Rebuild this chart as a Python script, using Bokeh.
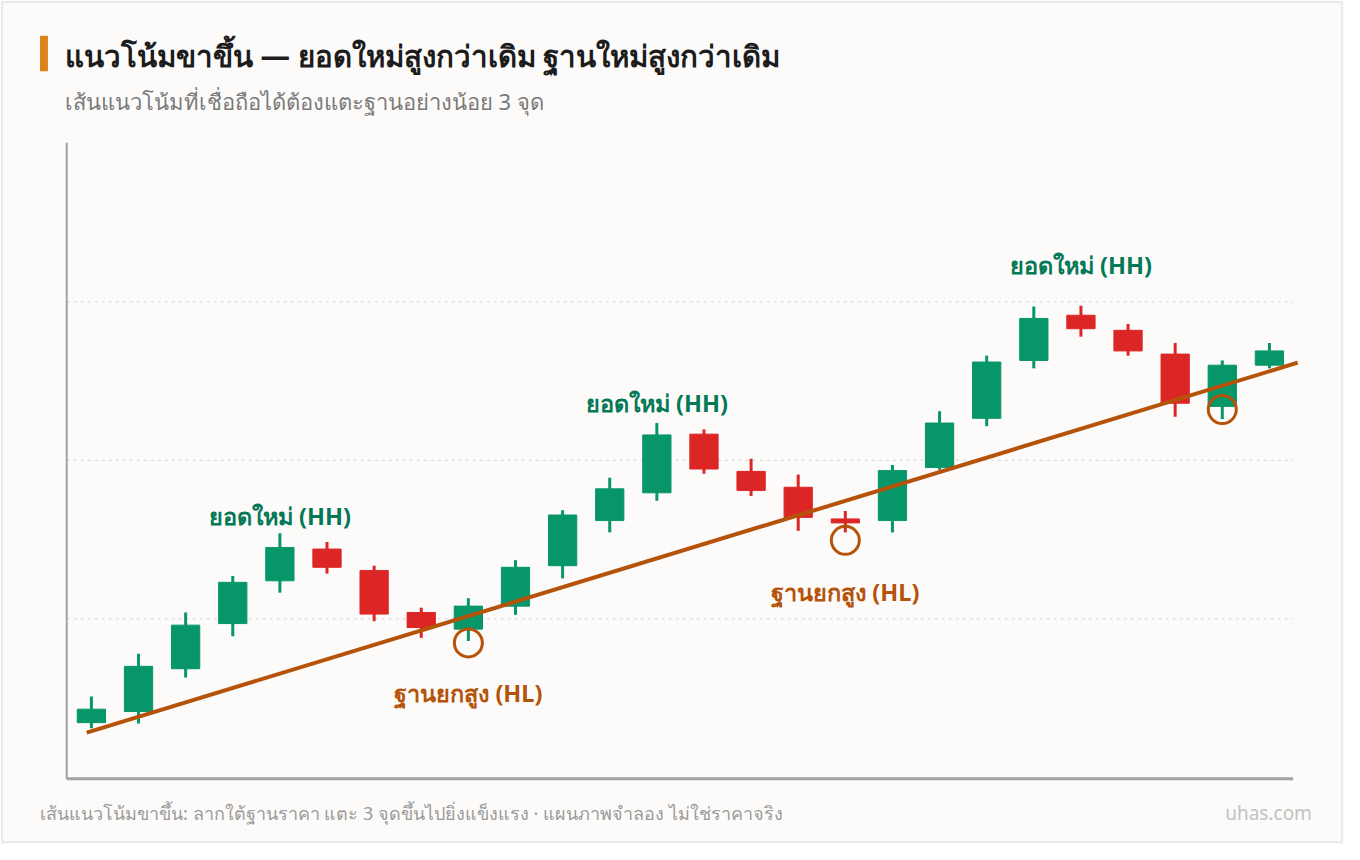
from bokeh.plotting import figure
from bokeh.models import Range1d, ColumnDataSource
from bokeh.core.properties import value
from bokeh.embed import file_html
from bokeh.resources import INLINE

# ---------------- data ----------------
opens = [103.45, 104.15, 106.85, 109.7, 112.4, 114.4, 113.05, 110.4, 109.35, 110.8, 113.35, 116.2, 117.95,
         121.65, 119.3, 118.3, 116.3, 116.2, 119.55, 122.65, 126.3, 129.15, 128.2, 126.7, 123.4, 126.0]
highs = [105.1, 107.8, 110.4, 112.7, 115.4, 114.85, 113.35, 110.7, 111.3, 113.7, 116.85, 118.9, 122.35,
         121.95, 120.1, 119.1, 116.8, 119.7, 123.1, 126.6, 129.7, 129.75, 128.6, 127.4, 126.3, 127.4]
lows = [103.1, 103.4, 106.3, 108.9, 111.65, 112.85, 109.85, 108.8, 108.6, 110.25, 112.55, 115.45, 117.45,
        119.15, 117.75, 115.55, 115.45, 115.45, 119.4, 122.15, 125.8, 127.8, 126.6, 122.75, 122.6, 125.8]
closes = [104.3, 107.0, 109.6, 112.3, 114.5, 113.25, 110.3, 109.45, 110.8, 113.25, 116.55, 118.2, 121.6,
          119.45, 118.1, 116.4, 116.05, 119.35, 122.35, 126.2, 128.95, 128.3, 126.9, 123.6, 126.0, 126.9]

trend_x = [-0.1, 25.6]
trend_y = [102.82, 126.16]

hl_circle_idx = [8, 16, 24]
hl_circle_y = [108.48, 114.95, 123.2]

hh_idx = [4, 12, 21]
hh_y = [116.5, 123.62, 132.35]
hh_text = ["ยอดใหม่ (HH)", "ยอดใหม่ (HH)", "ยอดใหม่ (HH)"]

hl_idx = [8, 16]
hl_y = [105.3, 111.67]
hl_text = ["ฐานยกสูง (HL)", "ฐานยกสูง (HL)"]

grid_ticks = [110, 120, 130]

title_text = "แนวโน้มขาขึ้น — ยอดใหม่สูงกว่าเดิม ฐานใหม่สูงกว่าเดิม"
subtitle_text = "เส้นแนวโน้มที่เชื่อถือได้ต้องแตะฐานอย่างน้อย 3 จุด"
footer_text = "เส้นแนวโน้มขาขึ้น: ลากใต้ฐานราคา แตะ 3 จุดขึ้นไปยิ่งแข็งแรง · แผนภาพจำลอง ไม่ใช่ราคาจริง"
brand_text = "uhas.com"

# ---------------- style / layout ----------------
BG = "#FCFBF9"
UP = "#079669"
DOWN = "#DC2626"
TREND = "#B45309"
HH_COLOR = "#047857"
AXIS = "#a3a3a3"
FONT = "Noto Sans"

W, H = 1344, 844
FX, FY = W / 1360.0, H / 860.0          # reference px -> figure px

# value extent of the chart area (the axes box)
X0, X1 = -0.524, 25.503
Y0, Y1 = 99.91, 140.03
# where that box sits on the canvas (reference px scaled to the figure)
BL, BT, BR, BB = 67 * FX, 145 * FY, 1308 * FX, 793 * FY
PXX = (BR - BL) / (X1 - X0)
PXY = (BB - BT) / (Y1 - Y0)

# the whole canvas is the frame, so texts outside the axes box are glyphs too
XR = Range1d(X0 - BL / PXX, X1 + (W - BR) / PXX)
YR = Range1d(Y0 - (H - BB) / PXY, Y1 + BT / PXY)


def sx(rx):
    """reference-image x pixel -> data x"""
    return X0 + (rx * FX - BL) / PXX


def sy(ry):
    """reference-image y pixel -> data y"""
    return Y1 - (ry * FY - BT) / PXY


p = figure(width=W, height=H, x_range=XR, y_range=YR,
           x_axis_location=None, y_axis_location=None, toolbar_location=None,
           output_backend="svg", min_border=0, min_border_left=0, min_border_right=0,
           min_border_top=0, min_border_bottom=0,
           background_fill_color=BG, border_fill_color=BG, outline_line_color=None)
if p.title is not None:
    p.title.visible = False
p.xgrid.visible = False
p.ygrid.visible = False

# thin page border
p.quad(left=[sx(1.5)], right=[sx(1357.5)], top=[sy(1.5)], bottom=[sy(857.5)],
       fill_color=None, line_color="#e4e4e4", line_width=1.5)

# dashed horizontal grid lines inside the axes box
p.segment(x0=[X0] * len(grid_ticks), y0=grid_ticks, x1=[X1] * len(grid_ticks), y1=grid_ticks,
          line_color="#d4d4d4", line_width=1, line_dash="3 4")

# axis lines
p.segment(x0=[X0], y0=[Y0], x1=[X0], y1=[Y1], line_color=AXIS, line_width=2)
p.segment(x0=[X0], y0=[Y0], x1=[X1], y1=[Y0], line_color=AXIS, line_width=3)

idx = list(range(len(opens)))
colors = [UP if c >= o else DOWN for o, c in zip(opens, closes)]
src = ColumnDataSource(dict(
    x=idx, open=opens, close=closes, high=highs, low=lows,
    top=[max(o, c) for o, c in zip(opens, closes)],
    bottom=[min(o, c) for o, c in zip(opens, closes)],
    color=colors))

p.segment(x0="x", y0="high", x1="x", y1="low", source=src, line_color="color", line_width=3)
p.vbar(x="x", width=0.6, top="top", bottom="bottom", source=src, fill_color="color",
       line_color="color", line_width=1)

p.line(trend_x, trend_y, line_color=TREND, line_width=4)

p.scatter(hl_circle_idx, hl_circle_y, marker="circle", size=28, fill_color=None,
          line_color=TREND, line_width=3)

p.text(x=hh_idx, y=hh_y, text=hh_text, text_font=value(FONT), text_font_style="bold",
       text_font_size="23.5px", text_color=HH_COLOR, text_align="center", text_baseline="middle")
p.text(x=hl_idx, y=hl_y, text=hl_text, text_font=value(FONT), text_font_style="bold",
       text_font_size="23.5px", text_color=TREND, text_align="center", text_baseline="middle")

# title accent bar
p.quad(left=[sx(40)], right=[sx(48)], top=[sy(36)], bottom=[sy(72)],
       fill_color="#D9831A", line_color=None)

# title, subtitle, footer
p.text(x=[sx(65)], y=[sy(56)], text=[title_text], text_font=value(FONT), text_font_style="bold",
       text_font_size="29.5px", text_color="#1c1c1c", text_baseline="middle")
p.text(x=[sx(65)], y=[sy(102)], text=[subtitle_text], text_font=value(FONT),
       text_font_size="22px", text_color="#7a7a7a", text_baseline="middle")
p.text(x=[sx(40)], y=[sy(828)], text=[footer_text], text_font=value(FONT),
       text_font_size="18px", text_color="#9a9a9a", text_baseline="middle")
p.text(x=[sx(1327)], y=[sy(828)], text=[brand_text], text_font=value(FONT), text_align="right",
       text_font_size="19px", text_color="#c2c2c2", text_baseline="middle")

open("out.html", "w").write(file_html(p, INLINE))
